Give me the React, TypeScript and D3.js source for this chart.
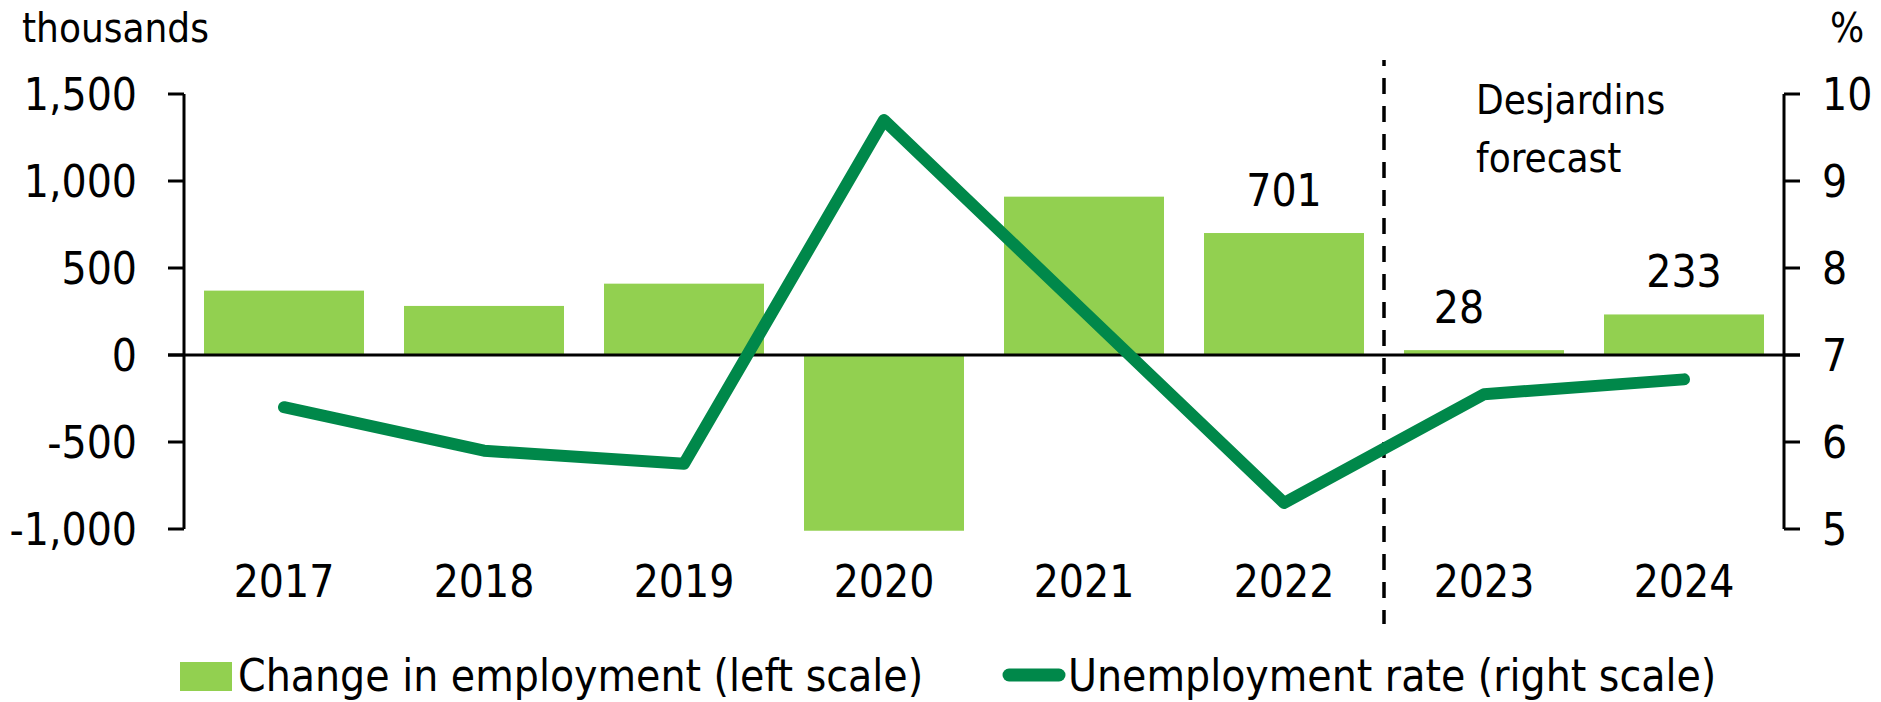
import React from "react";
import * as d3 from "d3";

// chart data
const years = ["2017", "2018", "2019", "2020", "2021", "2022", "2023", "2024"];
const employmentChange = [370, 282, 410, -1010, 910, 701, 28, 233];
const unemploymentRate = [6.4, 5.9, 5.75, 9.7, 7.5, 5.3, 6.55, 6.72];
const labelledYears = ["2022", "2023", "2024"];
const leftTicks = [-1000, -500, 0, 500, 1000, 1500];
const rightTicks = [5, 6, 7, 8, 9, 10];
const forecastStart = "2023";

const W = 1881;
const H = 702;
const FONT = "'DejaVu Sans Condensed', 'DejaVu Sans', sans-serif";
const BAR = "#92D050";
const LINE = "#00884A";

export default function App() {
  const x = d3
    .scaleBand<string>()
    .domain(years)
    .range([184, 1784])
    .paddingInner(0.2)
    .paddingOuter(0.1);
  const yL = d3.scaleLinear().domain([-1000, 1500]).range([529, 94]);
  const yR = d3.scaleLinear().domain([5, 10]).range([529, 94]);
  const fmt = (v: number) => d3.format(",")(v).replace("\u2212", "-");

  const cx = (y: string) => (x(y) ?? 0) + x.bandwidth() / 2;

  const line = d3
    .line<number>()
    .x((_, i) => cx(years[i]))
    .y((d) => yR(d));

  const [left, right] = x.range();
  const divider = (x(forecastStart) ?? 0) - (x.step() * x.paddingInner()) / 2;

  // small nudge for the 2023 label, as in the original
  const labelDx: Record<string, number> = { "2023": -25 };

  return (
    <svg
      width={W}
      height={H}
      style={{ position: "absolute", left: 0, top: 0, background: "#fff" }}
      fontFamily={FONT}
    >
      {/* bars */}
      {years.map((yr, i) => {
        const v = employmentChange[i];
        return (
          <rect
            key={yr}
            x={x(yr)}
            width={x.bandwidth()}
            y={Math.min(yL(v), yL(0))}
            height={Math.abs(yL(v) - yL(0))}
            fill={BAR}
          />
        );
      })}

      {/* zero line */}
      <line x1={left - 16} x2={right + 16} y1={yL(0)} y2={yL(0)} stroke="#000" strokeWidth={3} />

      {/* left axis */}
      <line x1={left} x2={left} y1={yL(1500)} y2={yL(-1000)} stroke="#000" strokeWidth={3} />
      {leftTicks.map((t) => (
        <g key={t}>
          <line x1={left - 16} x2={left} y1={yL(t)} y2={yL(t)} stroke="#000" strokeWidth={3} />
          <text x={137} y={yL(t)} dy="0.37em" textAnchor="end" fontSize={44} fill="#000">
            {fmt(t)}
          </text>
        </g>
      ))}

      {/* right axis */}
      <line x1={right} x2={right} y1={yR(10)} y2={yR(5)} stroke="#000" strokeWidth={3} />
      {rightTicks.map((t) => (
        <g key={t}>
          <line x1={right} x2={right + 16} y1={yR(t)} y2={yR(t)} stroke="#000" strokeWidth={3} />
          <text x={1822} y={yR(t)} dy="0.37em" fontSize={44} fill="#000">
            {t}
          </text>
        </g>
      ))}

      {/* axis titles */}
      <text x={22} y={42} fontSize={40} fill="#000">thousands</text>
      <text x={1830} y={42} fontSize={40} fill="#000">%</text>

      {/* forecast divider */}
      <line
        x1={divider}
        x2={divider}
        y1={60}
        y2={624}
        stroke="#000"
        strokeWidth={3.5}
        strokeDasharray="16 12"
        strokeDashoffset={10}
      />
      <text x={1476} y={114} fontSize={40} fill="#000">Desjardins</text>
      <text x={1476} y={172} fontSize={40} fill="#000">forecast</text>

      {/* unemployment line */}
      <path
        d={line(unemploymentRate) ?? ""}
        fill="none"
        stroke={LINE}
        strokeWidth={12}
        strokeLinejoin="round"
        strokeLinecap="round"
      />

      {/* value labels */}
      {labelledYears.map((yr) => {
        const v = employmentChange[years.indexOf(yr)];
        return (
          <text
            key={yr}
            x={cx(yr) + (labelDx[yr] ?? 0)}
            y={yL(v) - 27}
            textAnchor="middle"
            fontSize={44}
            fill="#000"
          >
            {v}
          </text>
        );
      })}

      {/* category labels */}
      {years.map((yr) => (
        <text key={yr} x={cx(yr)} y={597} textAnchor="middle" fontSize={44} fill="#000">
          {yr}
        </text>
      ))}

      {/* legend */}
      <rect x={180} y={662} width={52} height={29} fill={BAR} />
      <text x={238} y={691} fontSize={44} fill="#000">Change in employment (left scale)</text>
      <line x1={1009} x2={1059} y1={675} y2={675} stroke={LINE} strokeWidth={13} strokeLinecap="round" />
      <text x={1068} y={691} fontSize={44} fill="#000">Unemployment rate (right scale)</text>
    </svg>
  );
}
